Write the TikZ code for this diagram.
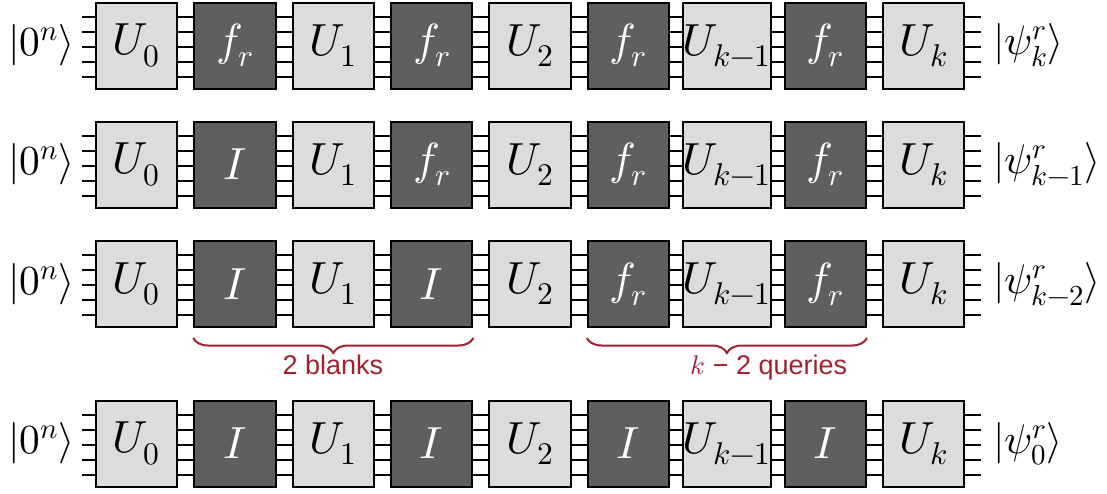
\documentclass[tikz,border=0pt]{standalone}
\usepackage{fontspec}
\usepackage{unicode-math}
\setmathfont{Latin Modern Math}
\setsansfont{Liberation Sans}
\usetikzlibrary{decorations.pathreplacing,calc}
\definecolor{lightbox}{RGB}{220,220,220}
\definecolor{darkbox}{RGB}{95,95,95}
\definecolor{bracered}{RGB}{158,34,48}
\begin{document}
\begin{tikzpicture}[x=0.75pt,y=-0.75pt,
  gate/.style={draw=black,line width=1.5pt,minimum width=61pt,minimum height=64.5pt,inner sep=0pt,font=\fontsize{33.75}{40}\selectfont},
  ugate/.style={gate,fill=lightbox},
  fgate/.style={gate,fill=darkbox,text=white},
  wire/.style={line width=1.5pt},
  ket/.style={inner sep=0pt,font=\fontsize{31}{37}\selectfont},
  bracelbl/.style={text=bracered,font=\sffamily\fontsize{20.25}{24}\selectfont,inner sep=0pt},
  bracepath/.style={draw=bracered,line width=1.5pt,decorate,decoration={brace,mirror,amplitude=11.25pt}}]
\useasboundingbox (0,0) rectangle (1107,493);
\foreach \row/\yc/\a/\b/\c/\d/\out in {1/45.5/f_r/f_r/f_r/f_r/k, 2/164.5/I/f_r/f_r/f_r/{k-1}, 3/284/I/I/f_r/f_r/{k-2}, 4/443.5/I/I/I/I/0}{
  \node[ugate] (r\row b0) at (136.5,\yc) {$U_0$};
  \node[fgate] (r\row b1) at (234.9,\yc) {$\a$};
  \node[ugate] (r\row b2) at (333.3,\yc) {$U_1$};
  \node[fgate] (r\row b3) at (431.7,\yc) {$\b$};
  \node[ugate] (r\row b4) at (530.1,\yc) {$U_2$};
  \node[fgate] (r\row b5) at (628.5,\yc) {$\c$};
  \node[ugate] (r\row b6) at (726.9,\yc) {$U_{k-1}$};
  \node[fgate] (r\row b7) at (825.3,\yc) {$\d$};
  \node[ugate] (r\row b8) at (923.7,\yc) {$U_k$};
  \coordinate (r\row in) at (82,\yc);
  \coordinate (r\row out) at (981,\yc);
  \node[ket] (r\row ketin) at (41.5,\yc) {$\lvert0^n\rangle$};
  \node[ket,anchor=west] (r\row ketout) at (993,\yc) {$\lvert\psi^r_{\out}\rangle$};
  \foreach \w in {21.75,10.5,-0.75,-12,-23.25}{
    \draw[wire] ([yshift=\w pt]r\row in) -- ([yshift=\w pt]r\row b0.west);
    \draw[wire] ([yshift=\w pt]r\row b8.east) -- ([yshift=\w pt]r\row out);
    \foreach \i [evaluate=\i as \j using int(\i+1)] in {0,...,7}{
      \draw[wire] ([yshift=\w pt]r\row b\i.east) -- ([yshift=\w pt]r\row b\j.west);
    }
  }
}
\draw[bracepath] ([yshift=-7.5pt]r3b1.south west) -- ([yshift=-7.5pt]r3b3.south east);
\draw[bracepath] ([yshift=-7.5pt]r3b5.south west) -- ([yshift=-7.5pt]r3b7.south east);
\node[bracelbl,anchor=base] (blanks) at (333,374) {2 blanks};
\node[bracelbl,anchor=base] (queries) at (769,374) {$k$ − 2 queries};
\end{tikzpicture}
\end{document}
